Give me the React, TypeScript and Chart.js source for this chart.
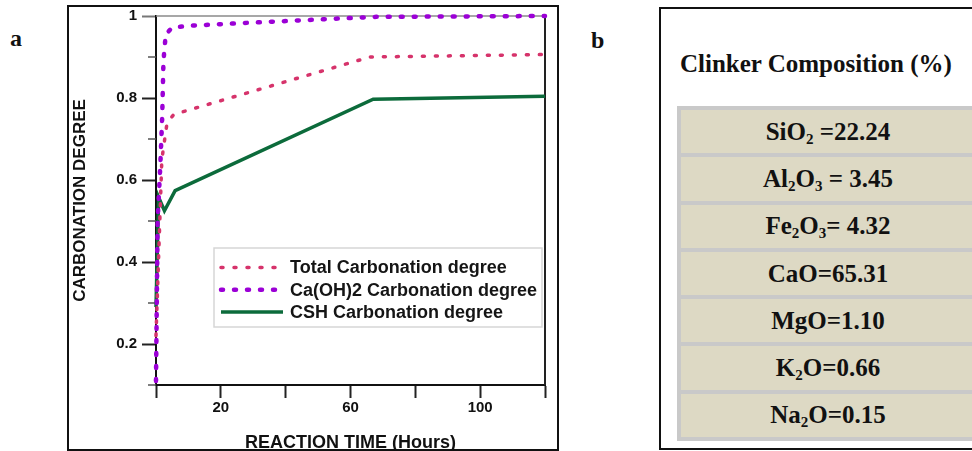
import React, { useEffect, useRef } from 'react';
import { Chart, registerables } from 'chart.js';

Chart.register(...registerables);

// ---------- data ----------
const seriesLabels = ['Total Carbonation degree', 'Ca(OH)2 Carbonation degree', 'CSH Carbonation degree'];
const totalTime = [0, 1.8, 3.4, 5.5, 66, 120];
const totalDegree = [0.22, 0.65, 0.739, 0.76, 0.9, 0.906];
const cohTime = [0, 0.5, 1.3, 1.9, 2.3, 3.0, 5, 12, 30, 57, 68, 120];
const cohDegree = [0.11, 0.5, 0.63, 0.75, 0.89, 0.955, 0.972, 0.977, 0.984, 0.994, 0.998, 1.0];
const cshTime = [0, 0.8, 2.6, 5.9, 67, 120];
const cshDegree = [0.29, 0.558, 0.525, 0.574, 0.797, 0.804];
const xLabelledTicks = [20, 60, 100];
const yLabelledTicks = [0.2, 0.4, 0.6, 0.8, 1];
const yMinorTicks = [0.1, 0.3, 0.5, 0.7, 0.9];
const xTitle = 'REACTION TIME (Hours)';
const yTitle = 'CARBONATION DEGREE';
const clinkerTitle = 'Clinker Composition (%)';
const clinkerRows = ['SiO_2 =22.24', 'Al_2O_3 = 3.45', 'Fe_2O_3= 4.32', 'CaO=65.31', 'MgO=1.10', 'K_2O=0.66', 'Na_2O=0.15'];

const SANS = "'Liberation Sans', Arial, sans-serif";
const SERIF = "'Liberation Serif', 'Times New Roman', serif";

const toPoints = (xs: number[], ys: number[]) => xs.map((x, i) => ({ x, y: ys[i] }));

const framePlugin = {
  id: 'frame',
  beforeDatasetsDraw(chart: any) {
    const { ctx, chartArea: a } = chart;
    const ys = chart.scales.y;
    ctx.save();
    // top border
    ctx.strokeStyle = '#8a8a8a';
    ctx.lineWidth = 1.5;
    ctx.beginPath();
    ctx.moveTo(a.left, a.top);
    ctx.lineTo(a.right, a.top);
    ctx.stroke();
    // right border
    ctx.strokeStyle = '#222';
    ctx.lineWidth = 2;
    ctx.beginPath();
    ctx.moveTo(a.right, a.top);
    ctx.lineTo(a.right, a.bottom);
    ctx.stroke();
    // minor y ticks
    ctx.strokeStyle = '#555';
    ctx.lineWidth = 1.5;
    yMinorTicks.forEach((v) => {
      const py = ys.getPixelForValue(v);
      ctx.beginPath();
      ctx.moveTo(a.left - 8, py);
      ctx.lineTo(a.left, py);
      ctx.stroke();
    });
    ctx.restore();
  },
  afterDatasetsDraw(chart: any) {
    const { ctx, chartArea: a } = chart;
    const bx = a.left + 58;
    const by = 248;
    const bw = 328;
    const bh = 79;
    ctx.save();
    ctx.fillStyle = '#ffffff';
    ctx.fillRect(bx, by, bw, bh);
    ctx.strokeStyle = '#d6d6d6';
    ctx.lineWidth = 1.5;
    ctx.strokeRect(bx, by, bw, bh);
    chart.data.datasets.forEach((ds: any, i: number) => {
      const y = by + 19.5 + i * 22.3;
      ctx.beginPath();
      ctx.setLineDash(ds.borderDash || []);
      ctx.lineCap = ds.borderCapStyle || 'butt';
      ctx.lineWidth = ds.borderWidth;
      ctx.strokeStyle = ds.borderColor;
      ctx.moveTo(bx + 7, y);
      ctx.lineTo(bx + 69, y);
      ctx.stroke();
      ctx.setLineDash([]);
      ctx.fillStyle = '#151515';
      ctx.font = `bold 18px ${SANS}`;
      ctx.textBaseline = 'middle';
      ctx.textAlign = 'left';
      ctx.fillText(ds.label, bx + 76, y + 1);
    });
    ctx.restore();
  },
};

function CarbonationChart() {
  const ref = useRef<HTMLCanvasElement>(null);
  useEffect(() => {
    const canvas = ref.current!;
    const chart = new Chart(canvas, {
      type: 'line',
      data: {
        datasets: [
          {
            label: seriesLabels[0],
            data: toPoints(totalTime, totalDegree),
            borderColor: '#d6336b',
            borderWidth: 3.5,
            borderDash: [2, 11],
            borderCapStyle: 'round',
            pointRadius: 0,
            tension: 0,
            clip: false,
            order: 1,
          } as any,
          {
            label: seriesLabels[1],
            data: toPoints(cohTime, cohDegree),
            borderColor: '#9b00d6',
            borderWidth: 4.5,
            borderDash: [2, 11],
            borderCapStyle: 'round',
            pointRadius: 0,
            tension: 0,
            clip: false,
            order: 0,
          } as any,
          {
            label: seriesLabels[2],
            data: toPoints(cshTime, cshDegree),
            borderColor: '#0c6b3b',
            borderWidth: 3.5,
            borderCapStyle: 'butt',
            pointRadius: 0,
            tension: 0,
            clip: false,
            order: 2,
          } as any,
        ],
      },
      options: {
        responsive: false,
        animation: false,
        devicePixelRatio: 1,
        layout: { padding: { left: 68, top: 16, right: 20, bottom: 0 } },
        plugins: { legend: { display: false }, tooltip: { enabled: false } },
        scales: {
          x: {
            type: 'linear',
            min: 0,
            max: 120,
            border: { display: true, color: '#111', width: 2 },
            grid: { drawOnChartArea: false, drawTicks: true, tickLength: 13, tickWidth: 2, tickColor: '#222' },
            ticks: {
              stepSize: 20,
              autoSkip: false,
              maxRotation: 0,
              padding: 1,
              color: '#111',
              font: { family: SANS, size: 15, weight: 'bold' },
              callback: (v: any) => (xLabelledTicks.includes(Number(v)) ? String(v) : ''),
            },
            title: {
              display: true,
              text: xTitle,
              color: '#111',
              padding: { top: 0, bottom: 0 },
              font: { family: SANS, size: 18, weight: 'bold', lineHeight: 0.85 },
            },
            afterFit: (s: any) => {
              s.height = 66;
            },
          },
          y: {
            type: 'linear',
            min: 0.1,
            max: 1,
            border: { display: true, color: '#111', width: 2 },
            grid: {
              drawOnChartArea: false,
              drawTicks: true,
              tickLength: 14,
              tickWidth: 2,
              tickColor: (c: any) => {
                const k = Math.round((c.tick ? c.tick.value : 0) * 10);
                if (k === 10) return '#777';
                return k % 2 === 0 ? '#222' : 'rgba(0,0,0,0)';
              },
            },
            ticks: {
              stepSize: 0.1,
              autoSkip: false,
              padding: 5,
              color: '#111',
              font: { family: SANS, size: 15, weight: 'bold' },
              callback: (v: any) => {
                const r = Math.round(Number(v) * 10) / 10;
                return yLabelledTicks.includes(r) ? String(r) : '';
              },
            },
            title: {
              display: true,
              text: yTitle,
              color: '#111',
              padding: { top: 2, bottom: 0 },
              font: { family: SANS, size: 17, weight: 'bold' },
            },
            afterFit: (s: any) => {
              s.width = 88;
            },
          },
        },
      } as any,
      plugins: [framePlugin],
    });
    return () => chart.destroy();
  }, []);
  return (
    <canvas
      ref={ref}
      width={565}
      height={451}
      style={{ position: 'absolute', left: 0, top: 0, width: 565, height: 451 }}
    />
  );
}

function renderFormula(s: string) {
  const parts = s.split(/(_\d)/).filter((p) => p !== '');
  return parts.map((p, i) =>
    p.startsWith('_') ? (
      <span key={i} style={{ fontSize: 15, position: 'relative', top: 4 }}>
        {p.slice(1)}
      </span>
    ) : (
      <span key={i}>{p}</span>
    )
  );
}

export default function App() {
  return (
    <div
      style={{
        position: 'absolute',
        left: 0,
        top: 0,
        width: 972,
        height: 451,
        overflow: 'hidden',
        background: '#ffffff',
      }}
    >
      <div
        style={{
          position: 'absolute',
          left: 10,
          top: 26,
          font: `bold 24px ${SERIF}`,
          lineHeight: '24px',
          color: '#111',
        }}
      >
        a
      </div>
      <div
        style={{
          position: 'absolute',
          left: 67,
          top: 5,
          width: 492,
          height: 446,
          boxSizing: 'border-box',
          border: '2px solid #111',
        }}
      />
      <CarbonationChart />
      <div
        style={{
          position: 'absolute',
          left: 591,
          top: 28,
          font: `bold 24px ${SERIF}`,
          lineHeight: '24px',
          color: '#111',
        }}
      >
        b
      </div>
      <div
        style={{
          position: 'absolute',
          left: 659,
          top: 7,
          width: 400,
          height: 443,
          boxSizing: 'border-box',
          border: '2px solid #111',
        }}
      />
      <div
        style={{
          position: 'absolute',
          left: 680,
          top: 51,
          font: `bold 25px ${SERIF}`,
          lineHeight: '25px',
          color: '#111',
          whiteSpace: 'nowrap',
        }}
      >
        {clinkerTitle}
      </div>
      <div
        style={{
          position: 'absolute',
          left: 677,
          top: 106,
          width: 298,
          background: '#c9c9c9',
          padding: '0 0 4px 4px',
          boxSizing: 'border-box',
        }}
      >
        {clinkerRows.map((r, i) => (
          <div
            key={i}
            style={{
              marginTop: 4,
              height: 43.3,
              background: '#ddd9c4',
              display: 'flex',
              alignItems: 'center',
              justifyContent: 'center',
              font: `bold 25px ${SERIF}`,
              color: '#111',
              whiteSpace: 'nowrap',
            }}
          >
            <span>{renderFormula(r)}</span>
          </div>
        ))}
      </div>
    </div>
  );
}
